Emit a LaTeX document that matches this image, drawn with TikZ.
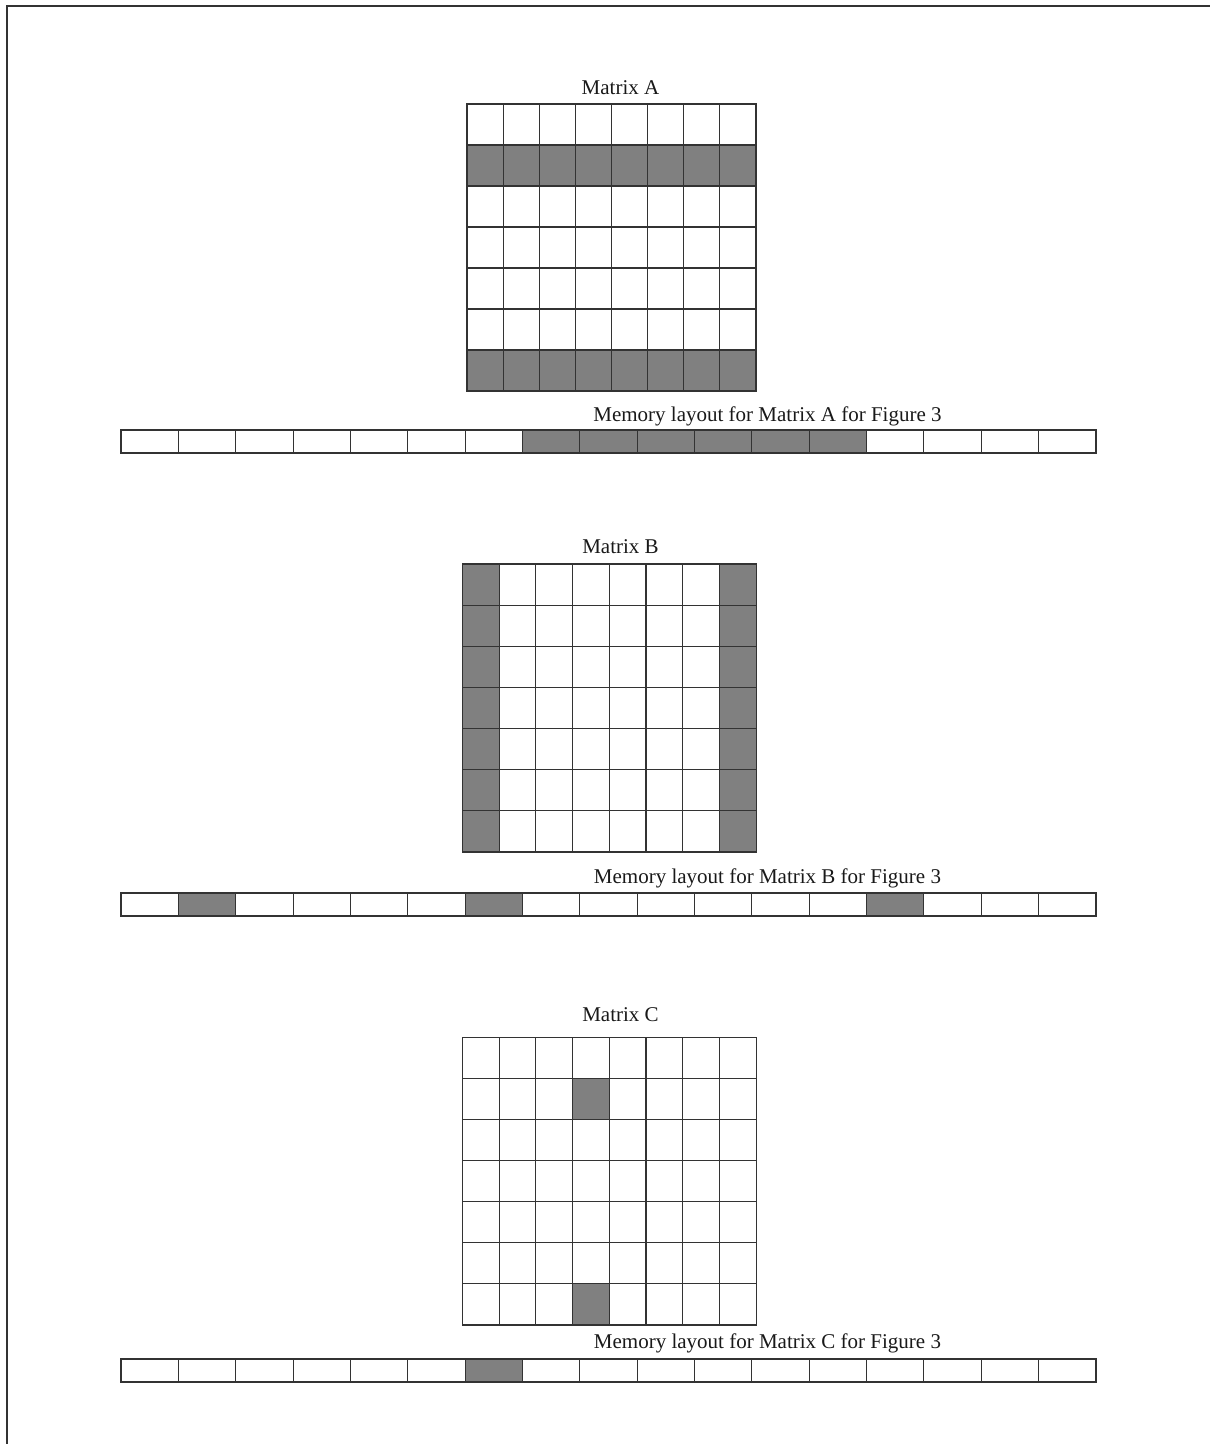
\documentclass[tikz,border=0pt]{standalone}
\usepackage{fontspec}
\setmainfont{Liberation Serif}
\begin{document}
\begin{tikzpicture}[x=1pt,y=-1pt,
  cell/.style={draw=black!80,line width=1.1pt},
  shaded/.style={cell,fill=black!50},
  lbl/.style={font=\fontsize{21}{25}\selectfont,text=black!90,inner sep=0pt,anchor=base}]
\useasboundingbox (0,0) rectangle (1210,1444);
\draw[line width=2pt,black!80] (7,1444) -- (7,6) -- (1210,6);
% Matrix A
\node[lbl] (titleA) at (620.5,94) {Matrix A};
\foreach \r in {0,...,6}{\foreach \c in {0,...,7}{
  \draw[cell] ({467+\c*36.125},{104+\r*41}) rectangle +(36.125,41);}}
\foreach \r in {1,6}{\foreach \c in {0,...,7}{
  \draw[shaded] ({467+\c*36.125},{104+\r*41}) rectangle +(36.125,41);}}
\node[lbl] (memA) at (767.5,421) {Memory layout for Matrix A for Figure 3};
\foreach \c in {0,...,16}{\draw[cell] ({121+\c*57.35},430) rectangle +(57.35,23);}
\foreach \c in {7,...,12}{\draw[shaded] ({121+\c*57.35},430) rectangle +(57.35,23);}
% Matrix B
\node[lbl] (titleB) at (620.5,553) {Matrix B};
\foreach \r in {0,...,6}{\foreach \c in {0,...,7}{
  \draw[cell] ({462.5+\c*36.7},{564+\r*41.14}) rectangle +(36.7,41.14);}}
\foreach \r in {0,...,6}{\foreach \c in {0,7}{
  \draw[shaded] ({462.5+\c*36.7},{564+\r*41.14}) rectangle +(36.7,41.14);}}
\node[lbl] (memB) at (767.5,883) {Memory layout for Matrix B for Figure 3};
\foreach \c in {0,...,16}{\draw[cell] ({121+\c*57.35},893) rectangle +(57.35,23);}
\foreach \c in {1,6,13}{\draw[shaded] ({121+\c*57.35},893) rectangle +(57.35,23);}
% Matrix C
\node[lbl] (titleC) at (620.5,1021) {Matrix C};
\foreach \r in {0,...,6}{\foreach \c in {0,...,7}{
  \draw[cell] ({462.5+\c*36.7},{1037.5+\r*41.07}) rectangle +(36.7,41.07);}}
\foreach \r in {1,6}{
  \draw[shaded] ({462.5+3*36.7},{1037.5+\r*41.07}) rectangle +(36.7,41.07);}
\node[lbl] (memC) at (767.5,1348) {Memory layout for Matrix C for Figure 3};
\foreach \c in {0,...,16}{\draw[cell] ({121+\c*57.35},1359) rectangle +(57.35,23);}
\draw[shaded] ({121+6*57.35},1359) rectangle +(57.35,23);
\end{tikzpicture}
\end{document}
